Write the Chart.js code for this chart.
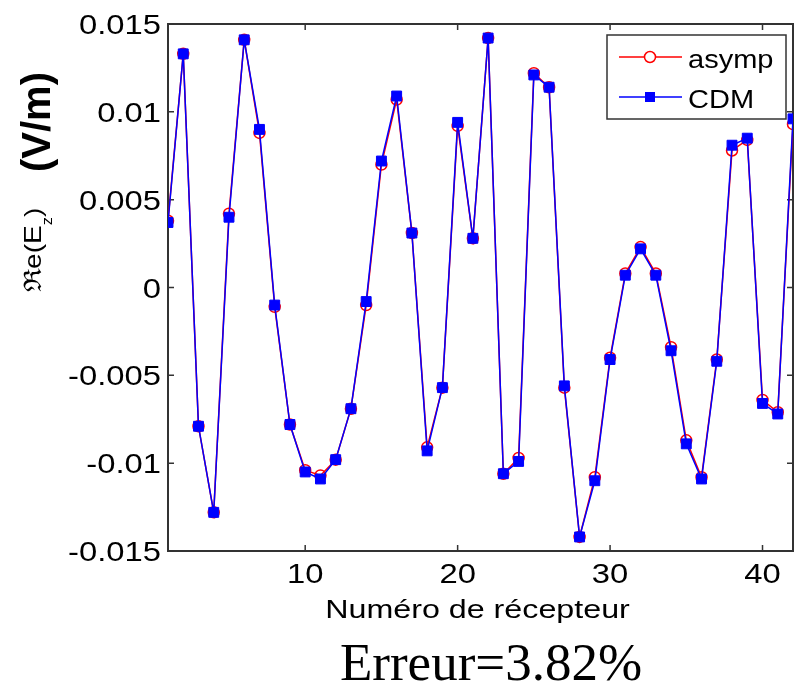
<!DOCTYPE html>
<html>
  <head>
    <style>
      html, body {
        margin: 0;
        background: #FFFFFF;
      }
      #chart-container {
        position: relative;
        width: 801px;
        height: 685px;
      }
    </style>
  </head>
  <body>
    <div id="chart-container">
      <canvas id="chart"></canvas>
    </div>

    <script src="https://cdn.jsdelivr.net/npm/chart.js"></script>
    <script>
      // numéro de récepteur
      const receivers = [1, 2, 3, 4, 5, 6, 7, 8, 9, 10, 11, 12, 13, 14, 15, 16, 17, 18, 19, 20, 21,
        22, 23, 24, 25, 26, 27, 28, 29, 30, 31, 32, 33, 34, 35, 36, 37, 38, 39, 40, 41, 42];

      const asympValues = [0.0038, 0.0133, -0.0079, -0.0128, 0.0042, 0.0141, 0.0088, -0.0011, -0.0078, -0.0104,
        -0.0107, -0.0098, -0.0069, -0.0010, 0.0070, 0.0107, 0.0031, -0.0091, -0.0057, 0.0092,
        0.0028, 0.0142, -0.0106, -0.0097, 0.0122, 0.0114, -0.0057, -0.0142, -0.0108, -0.0040,
        0.0008, 0.0023, 0.0008, -0.0034, -0.0087, -0.0108, -0.0041, 0.0078, 0.0084, -0.0064,
        -0.0071, 0.0093];

      const cdmValues = [0.0037, 0.0133, -0.0079, -0.0128, 0.0040, 0.0141, 0.0090, -0.0010, -0.0078, -0.0105,
        -0.0109, -0.0098, -0.0069, -0.0008, 0.0072, 0.0109, 0.0031, -0.0093, -0.0057, 0.0094,
        0.0028, 0.0142, -0.0106, -0.0099, 0.0121, 0.0114, -0.0056, -0.0142, -0.0110, -0.0041,
        0.0007, 0.0022, 0.0007, -0.0036, -0.0089, -0.0109, -0.0042, 0.0081, 0.0085, -0.0066,
        -0.0072, 0.0096];

      const xTicks = [10, 20, 30, 40];
      const xTickLabels = ["10", "20", "30", "40"];
      const yTicks = [-0.015, -0.01, -0.005, 0, 0.005, 0.01, 0.015];
      const yTickLabels = ["-0.015", "-0.01", "-0.005", "0", "0.005", "0.01", "0.015"];

      const seriesNames = ["asymp", "CDM"];
      const errorText = "Erreur=3.82%";

      const AXIS_COLOR = '#333333';
      const RED = '#FF0000';
      const BLUE = '#0000FF';
      const SANS = '"Liberation Sans", Arial';

      function toPoints(values) {
        return values.map((v, i) => ({ x: receivers[i], y: v }));
      }

      // the original figure has its text a bit stretched sideways
      function stretchText(ctx, text, x, y, font, sx, align) {
        ctx.save();
        ctx.font = font;
        ctx.textAlign = align || 'left';
        ctx.textBaseline = 'alphabetic';
        ctx.translate(x, y);
        ctx.scale(sx, 1);
        ctx.fillText(text, 0, 0);
        ctx.restore();
      }

      // matlab style box with inner ticks + tick labels
      const boxPlugin = {
        id: 'box',
        beforeDatasetsDraw(chart) {
          const { ctx, chartArea: a, scales } = chart;
          ctx.save();
          ctx.strokeStyle = AXIS_COLOR;
          ctx.lineWidth = 2;
          ctx.strokeRect(a.left, a.top, a.right - a.left, a.bottom - a.top);
          ctx.lineWidth = 1.5;
          ctx.beginPath();
          xTicks.forEach(function (t) {
            const px = scales.x.getPixelForValue(t);
            ctx.moveTo(px, a.bottom); ctx.lineTo(px, a.bottom - 6);
            ctx.moveTo(px, a.top); ctx.lineTo(px, a.top + 6);
          });
          yTicks.forEach(function (t) {
            const py = scales.y.getPixelForValue(t);
            ctx.moveTo(a.left, py); ctx.lineTo(a.left + 6, py);
            ctx.moveTo(a.right, py); ctx.lineTo(a.right - 6, py);
          });
          ctx.stroke();

          ctx.fillStyle = '#000';
          xTicks.forEach(function (t, i) {
            const px = scales.x.getPixelForValue(t);
            stretchText(ctx, xTickLabels[i], px, a.bottom + 32, '28px ' + SANS, 1.17, 'center');
          });
          yTicks.forEach(function (t, i) {
            const py = scales.y.getPixelForValue(t);
            stretchText(ctx, yTickLabels[i], a.left - 7, py + 10, '28px ' + SANS, 1.17, 'right');
          });
          ctx.restore();
        }
      };

      const textPlugin = {
        id: 'texts',
        afterDraw(chart) {
          const ctx = chart.ctx;
          const a = chart.chartArea;
          ctx.save();
          ctx.fillStyle = '#000';

          // x title
          stretchText(ctx, "Numéro de récepteur", (a.left + a.right) / 2 - 3, 618, '26px ' + SANS, 1.24, 'center');

          // error under the axes
          stretchText(ctx, errorText, 491, 680, '53px "Liberation Serif", "Times New Roman"', 1, 'center');

          // y title, rotated: Re(E_z)  (V/m)
          ctx.save();
          ctx.translate(41, 250);
          ctx.rotate(-Math.PI / 2);
          ctx.scale(1.17, 1);
          const f1 = '24px ' + SANS;
          const fR = '24px "DejaVu Serif", serif';
          const fs = '14px ' + SANS;
          ctx.font = fR; const wR = ctx.measureText("ℜ").width;
          ctx.font = f1; const wA = ctx.measureText("e(E").width;
          ctx.font = fs; const wz = ctx.measureText("z").width;
          ctx.font = f1; const wP = ctx.measureText(")").width;
          let x0 = -(wR + wA + wz + wP) / 2;
          ctx.font = fR; ctx.fillText("ℜ", x0, 0); x0 += wR;
          ctx.font = f1; ctx.fillText("e(E", x0, 0); x0 += wA;
          ctx.font = fs; ctx.fillText("z", x0, 11); x0 += wz;
          ctx.font = f1; ctx.fillText(")", x0, 0);
          ctx.restore();

          ctx.save();
          ctx.translate(50, 122);
          ctx.rotate(-Math.PI / 2);
          ctx.font = 'bold 40px ' + SANS;
          ctx.textAlign = 'center';
          ctx.fillText("(V/m)", 0, 0);
          ctx.restore();

          // legend box
          const lx = 607, ly = 35, lw = 179, lh = 84;
          ctx.fillStyle = '#FFFFFF';
          ctx.fillRect(lx, ly, lw, lh);
          ctx.strokeStyle = AXIS_COLOR;
          ctx.lineWidth = 1.5;
          ctx.strokeRect(lx, ly, lw, lh);

          ctx.strokeStyle = RED;
          ctx.beginPath(); ctx.moveTo(619, 57); ctx.lineTo(682, 57); ctx.stroke();
          ctx.fillStyle = '#FFFFFF';
          ctx.beginPath(); ctx.arc(650, 57, 5.5, 0, Math.PI * 2); ctx.fill(); ctx.stroke();

          ctx.strokeStyle = BLUE;
          ctx.beginPath(); ctx.moveTo(619, 97); ctx.lineTo(682, 97); ctx.stroke();
          ctx.fillStyle = BLUE;
          ctx.fillRect(645, 92, 10, 10);

          ctx.fillStyle = '#000';
          stretchText(ctx, seriesNames[0], 688, 68, '25px ' + SANS, 1.16, 'left');
          stretchText(ctx, seriesNames[1], 688, 108, '25px ' + SANS, 1.16, 'left');
          ctx.restore();
        }
      };

      const canvas = document.getElementById('chart');

      new Chart(canvas, {
        type: 'line',
        data: {
          datasets: [
            {
              label: seriesNames[0],
              data: toPoints(asympValues),
              borderColor: RED,
              borderWidth: 1.5,
              pointStyle: 'circle',
              pointRadius: 5.5,
              pointBorderWidth: 1.5,
              pointBorderColor: RED,
              pointBackgroundColor: 'rgba(0,0,0,0)',
              tension: 0,
              order: 2
            },
            {
              label: seriesNames[1],
              data: toPoints(cdmValues),
              borderColor: BLUE,
              borderWidth: 1.5,
              pointStyle: 'rect',
              pointRadius: 7,
              pointBorderWidth: 1,
              pointBorderColor: BLUE,
              pointBackgroundColor: BLUE,
              tension: 0,
              order: 1
            }
          ]
        },
        options: {
          responsive: true,
          maintainAspectRatio: false,
          animation: false,
          layout: {
            padding: { top: 24, left: 0, right: 1, bottom: 0 }
          },
          plugins: {
            legend: { display: false },
            title: { display: false },
            tooltip: { enabled: false }
          },
          scales: {
            x: {
              type: 'linear',
              min: 1,
              max: 42,
              afterBuildTicks: function (scale) {
                scale.ticks = xTicks.map(v => ({ value: v }));
              },
              afterFit: function (scale) {
                scale.height = 134;
              },
              grid: { display: false, drawTicks: false },
              border: { display: false },
              ticks: { display: false }
            },
            y: {
              min: -0.015,
              max: 0.015,
              afterBuildTicks: function (scale) {
                scale.ticks = yTicks.map(v => ({ value: v }));
              },
              afterFit: function (scale) {
                scale.width = 168;
              },
              grid: { display: false, drawTicks: false },
              border: { display: false },
              ticks: { display: false }
            }
          }
        },
        plugins: [boxPlugin, textPlugin]
      });
    </script>
  </body>
</html>
